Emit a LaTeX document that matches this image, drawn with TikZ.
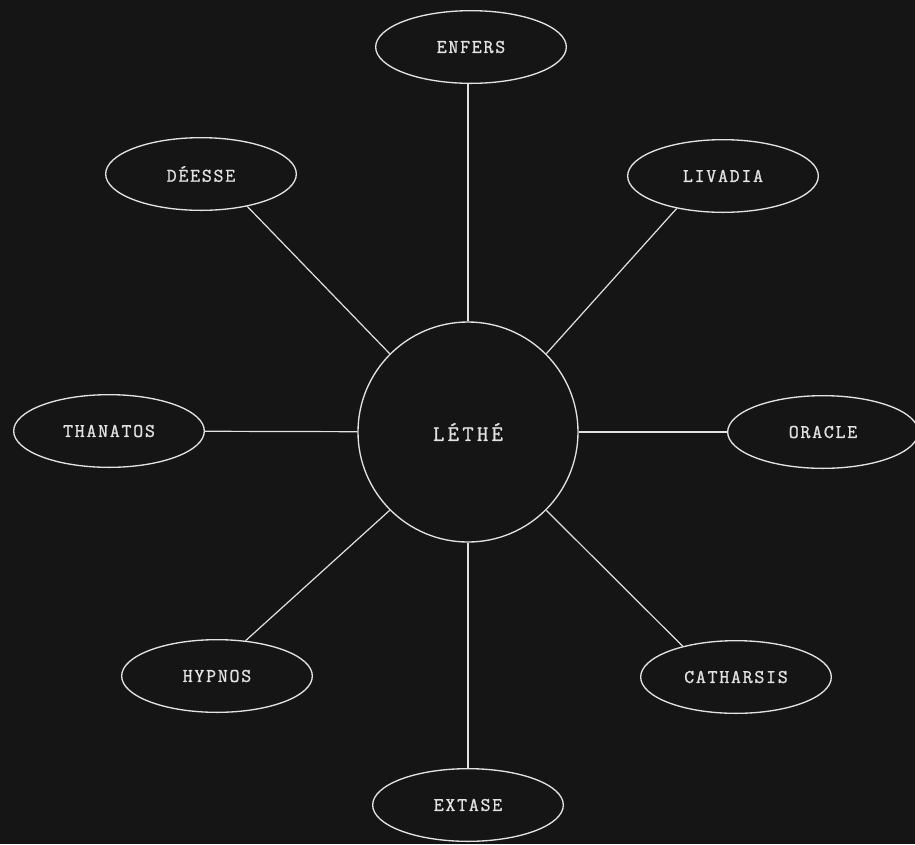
\documentclass[tikz,border=0pt]{standalone}
\usepackage{fontspec}
\usepackage{tikz}
\newfontfamily\labelfont{Latin Modern Mono}[LetterSpace=9, FakeBold=1.2]
\definecolor{nightbg}{HTML}{151515}
\definecolor{chalk}{HTML}{E2E2E2}
\usetikzlibrary{shapes.geometric}

\begin{document}
\begin{tikzpicture}[
x=0.75pt, y=-0.75pt,
idea/.style={ellipse, draw=chalk, line width=1pt, text=chalk, minimum width=143pt, minimum height=54.5pt, inner sep=0pt, font=\labelfont\fontsize{14.5}{16}\selectfont},
hub/.style={circle, draw=chalk, line width=1pt, text=chalk, minimum size=165pt, inner sep=0pt, font=\labelfont\fontsize{16.5}{18}\selectfont\addfontfeature{LetterSpace=15}},
link/.style={draw=chalk, line width=0.9pt}
]
\fill[nightbg] (0,0) rectangle (915,844);
\useasboundingbox (0,0) rectangle (915,844);

\node[hub] (lethe) at (468,432) {LÉTHÉ};

\node[idea] (enfers) at (471,47) {ENFERS};
\node[idea] (deesse) at (201,174) {DÉESSE};
\node[idea] (livadia) at (723,176) {LIVADIA};
\node[idea] (thanatos) at (109,431) {THANATOS};
\node[idea] (oracle) at (823,432) {ORACLE};
\node[idea] (hypnos) at (217,676) {HYPNOS};
\node[idea] (catharsis) at (736,677) {CATHARSIS};
\node[idea] (extase) at (468,805) {EXTASE};

% spokes
\draw[link] (lethe.north) -- (lethe.north |- enfers.south);
\draw[link] (lethe.south) -- (lethe.south |- extase.north);
\draw[link] (lethe.135) -- (deesse.-35);
\draw[link] (lethe.45) -- (livadia.215);
\draw[link] (lethe) -- (thanatos);
\draw[link] (lethe) -- (oracle);
\draw[link] (lethe.225) -- (hypnos.51);
\draw[link] (lethe.-45) -- (catharsis.150);
\end{tikzpicture}
\end{document}
